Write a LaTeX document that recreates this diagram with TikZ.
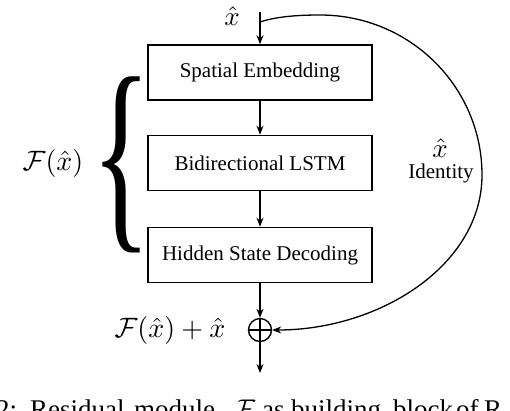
\documentclass[tikz,border=0pt]{standalone}
\usepackage[no-math]{fontspec}
\setmainfont{Liberation Serif}
\usetikzlibrary{arrows.meta}
\newcommand{\bigmath}[2]{\scalebox{#1}{\fontsize{10}{12}\selectfont$#2$}}
\begin{document}
\begin{tikzpicture}[x=1pt,y=-1pt,
  block/.style={draw, line width=1.6pt, minimum width=224pt, minimum height=55pt, inner sep=0pt, font=\fontsize{21}{25}\selectfont},
  conn/.style={-{Stealth[length=9pt,width=7pt]}, line width=1.3pt},
  mathlab/.style={inner sep=0pt},
  txtlab/.style={inner sep=0pt, font=\fontsize{21}{25}\selectfont},
  capword/.style={anchor=base west, inner sep=0pt, font=\fontsize{27}{30}\selectfont}]
\useasboundingbox (0,0) rectangle (510,410);
\clip (0,0) rectangle (510,410);
\node[block] (se) at (260,72.5) {Spatial Embedding};
\node[block] (bl) at (260,163) {Bidirectional LSTM};
\node[block] (hs) at (260,255) {Hidden State Decoding};
\node[circle, draw, line width=1.4pt, minimum size=23pt, inner sep=0pt] (sum) at (260,330) {};
\draw[line width=1.4pt] (sum.north) -- (sum.south) (sum.west) -- (sum.east);
\coordinate (in) at (260,12);
\coordinate (split) at (260,22);
\coordinate (out) at (260,373);
\draw[conn] (in) -- (se);
\draw[conn] (se) -- (bl);
\draw[conn] (bl) -- (hs);
\draw[conn] (hs) -- (sum);
\draw[conn] (sum) -- (out);
\draw[conn] (split) .. controls (275,17) and (295,15) .. (320,15)
  .. controls (410,15) and (482,87) .. (482,175)
  .. controls (482,265) and (380,330) .. (sum.east);
\node[mathlab] (xin) at (232,16) {\bigmath{2.7}{\hat{x}}};
\node[mathlab] (xid) at (440,148) {\bigmath{2.7}{\hat{x}}};
\node[txtlab] (id) at (441,173) {Identity};
\node[mathlab] (fx) at (53,163) {\bigmath{2.8}{\mathcal{F}(\hat{x})}};
\node[mathlab] (fsum) at (170,330) {\bigmath{2.8}{\mathcal{F}(\hat{x})+\hat{x}}};
\node[inner sep=0pt] (brace) at (121.5,165) {\resizebox*{60pt}{176pt}{\{}};
\node[capword] (c1) at (-4,418) {2:};
\node[capword] (c2) at (30,418) {Residual};
\node[capword] (c3) at (134,418) {module};
\node[capword] (c4) at (233,418) {\bigmath{2.7}{\mathcal{F}}};
\node[capword] (c5) at (262,418) {as};
\node[capword] (c6) at (291,418) {building};
\node[capword] (c7) at (393,418) {block};
\node[capword] (c8) at (456,418) {of};
\node[capword] (c9) at (484,418) {R};
\end{tikzpicture}
\end{document}
